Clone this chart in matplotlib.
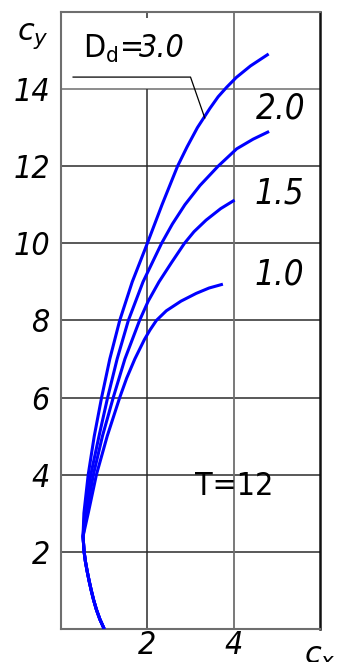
import matplotlib
matplotlib.use('Agg')
import matplotlib.pyplot as plt

# Lift coefficient c_y vs drag coefficient c_x for several D_d, T=12
STEM_CX = [1.00, 0.90, 0.82, 0.755, 0.70, 0.65, 0.605, 0.565, 0.535, 0.51]
STEM_CY = [0.00, 0.25, 0.50, 0.75, 1.00, 1.25, 1.50, 1.75, 2.00, 2.40]

DD_LABELS = ['3.0', '2.0', '1.5', '1.0']
CURVE_CY = [
    [3.0, 4.0, 5.0, 6.0, 7.0, 8.0, 9.0, 10.0, 11.0, 12.0, 12.5, 13.0, 13.5, 13.8, 14.05, 14.3, 14.6, 14.91],
    [3.0, 4.0, 5.0, 6.0, 7.0, 8.0, 9.0, 10.0, 10.5, 11.0, 11.5, 12.0, 12.45, 12.7, 12.9],
    [3.0, 4.0, 5.0, 6.0, 7.0, 8.0, 8.5, 9.0, 9.5, 10.0, 10.3, 10.6, 10.9, 11.12],
    [3.0, 4.0, 5.0, 6.0, 6.5, 7.0, 7.5, 7.75, 8.0, 8.25, 8.5, 8.7, 8.84, 8.94],
]
CURVE_CX = [
    [0.53, 0.63, 0.77, 0.94, 1.13, 1.36, 1.65, 2.00, 2.34, 2.70, 2.92, 3.16, 3.45, 3.64, 3.84, 4.06, 4.39, 4.81],
    [0.55, 0.69, 0.88, 1.08, 1.30, 1.56, 1.90, 2.33, 2.58, 2.87, 3.22, 3.64, 4.07, 4.45, 4.82],
    [0.59, 0.75, 0.96, 1.21, 1.48, 1.82, 2.02, 2.27, 2.56, 2.86, 3.08, 3.36, 3.70, 4.02],
    [0.63, 0.82, 1.07, 1.36, 1.52, 1.71, 1.93, 2.06, 2.21, 2.44, 2.78, 3.13, 3.43, 3.75],
]

X_TICKS = [2, 4]
Y_TICKS = [2, 4, 6, 8, 10, 12, 14]

FONT = dict(family=['DejaVu Sans'], stretch='condensed')
BLUE = '#0000FF'
GRID = '#2b2b2b'
FRAME = '#6e6e6e'

fig = plt.figure(figsize=(3.39, 6.62), dpi=100)
ax = fig.add_axes([0.18, 0.05, 0.764, 0.932])
ax.set_xlim(0, 6)
ax.set_ylim(0, 16)

# grid: x=2 line stops under the D_d label, only a stub at the top
for yv in Y_TICKS:
    ax.axhline(yv, color=GRID if yv < 14 else FRAME, lw=1.1, zorder=1)
ax.vlines(2, 0, 14, color=GRID, lw=1.1, zorder=1)
ax.vlines(2, 15.85, 16, color=GRID, lw=1.1, zorder=1)
ax.vlines(4, 0, 16, color=FRAME, lw=1.3, zorder=1)

for side in ['left', 'bottom', 'top']:
    ax.spines[side].set_color(FRAME)
    ax.spines[side].set_linewidth(1.5)
ax.spines['right'].set_color('#111111')
ax.spines['right'].set_linewidth(1.8)

ax.set_xticks(X_TICKS)
ax.set_yticks(Y_TICKS)
ax.tick_params(axis='y', length=0, pad=8)
ax.tick_params(axis='x', length=0, pad=1)
for lbl in ax.get_xticklabels() + ax.get_yticklabels():
    lbl.set_family(FONT['family'])
    lbl.set_stretch(FONT['stretch'])
    lbl.set_style('italic')
    lbl.set_fontsize(23)

for cx, cy in zip(CURVE_CX, CURVE_CY):
    ax.plot(STEM_CX + cx, STEM_CY + cy, color=BLUE, lw=2.2,
            solid_capstyle='butt', solid_joinstyle='round', zorder=3)

# curve labels
t_dd = ax.text(0.5, 15.05, r'D$_\mathregular{d}$=', fontsize=23,
               ha='left', va='center', zorder=4, **FONT)
ax.annotate('3.0', xy=(0.96, 0.5), xycoords=t_dd, fontsize=23, style='italic',
            ha='left', va='center', zorder=4, **FONT)
ax.plot([0.28, 3.0, 3.33], [14.31, 14.31, 13.25], color='black', lw=0.9, zorder=4)
for lab, (tx, ty) in zip(DD_LABELS[1:], [(5.08, 13.5), (5.06, 11.3), (5.06, 9.2)]):
    ax.text(tx, ty, lab, style='italic', fontsize=25,
            ha='center', va='center', zorder=4, **FONT)

ax.text(4.02, 3.68, 'T=12', fontsize=23,
        ha='center', va='center', zorder=4, **FONT)

# axis names
fig.text(0.05, 0.945, r'$c_y$', fontsize=22, ha='left', va='center')
ax.text(5.62, -0.35, r'$c_x$', fontsize=22, ha='left', va='top', clip_on=False)

fig.savefig('out.png', dpi=100)
